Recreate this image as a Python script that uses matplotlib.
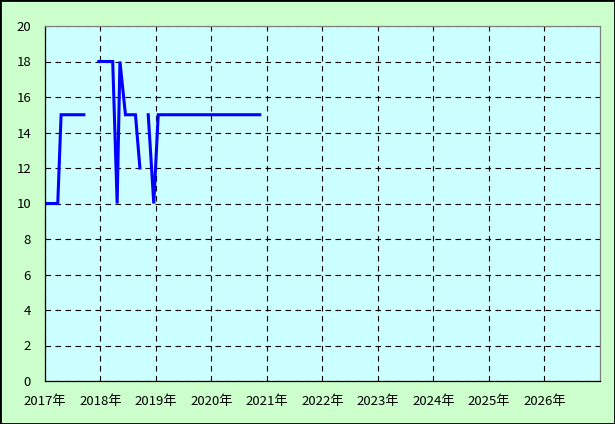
import numpy as np
import matplotlib.pyplot as plt

plt.rcParams['font.family'] = ['Noto Sans CJK JP', 'DejaVu Sans']

# decimal-year positions and values; NaN marks a break in the line
years = [2017.00, 2017.23, 2017.29, 2017.70, np.nan,
         2017.97, 2018.22, 2018.30, 2018.35, 2018.45, 2018.63, 2018.71, np.nan,
         2018.86, 2018.96, 2019.04, 2020.87]
values = [10, 10, 15, 15, np.nan,
          18, 18, 10, 18, 15, 15, 12, np.nan,
          15, 10, 15, 15]

tick_years = list(range(2017, 2027))
tick_labels = [f'{y}年' for y in tick_years]
y_ticks = list(range(0, 21, 2))

fig = plt.figure(figsize=(6.15, 4.24), dpi=100, facecolor='#CCFFCC')
ax = fig.add_axes([45 / 615, 43 / 424, 555 / 615, 355 / 424])
ax.set_facecolor('#CCFFFF')

ax.plot(years, values, color='#0000FF', linewidth=2.2, solid_joinstyle='miter')

ax.set_xlim(2017, 2027)
ax.set_ylim(0, 20)
ax.set_xticks(tick_years)
ax.set_xticklabels(tick_labels)
ax.set_yticks(y_ticks)
ax.tick_params(length=0, labelsize=9.5, colors='black')
ax.tick_params(axis='x', pad=10)
ax.tick_params(axis='y', pad=10)

ax.grid(True, color='black', linestyle=(0, (5, 4)), linewidth=0.8)

ax.spines['left'].set_color('black')
ax.spines['bottom'].set_color('black')
ax.spines['top'].set_color('#808080')
ax.spines['right'].set_color('#808080')
for s in ax.spines.values():
    s.set_linewidth(0.9)

# outer border of the figure
fig.patches.append(plt.Rectangle((0, 0), 1, 1, transform=fig.transFigure,
                                 fill=False, edgecolor='black', linewidth=2))

fig.savefig('out.png', dpi=100, facecolor=fig.get_facecolor())
